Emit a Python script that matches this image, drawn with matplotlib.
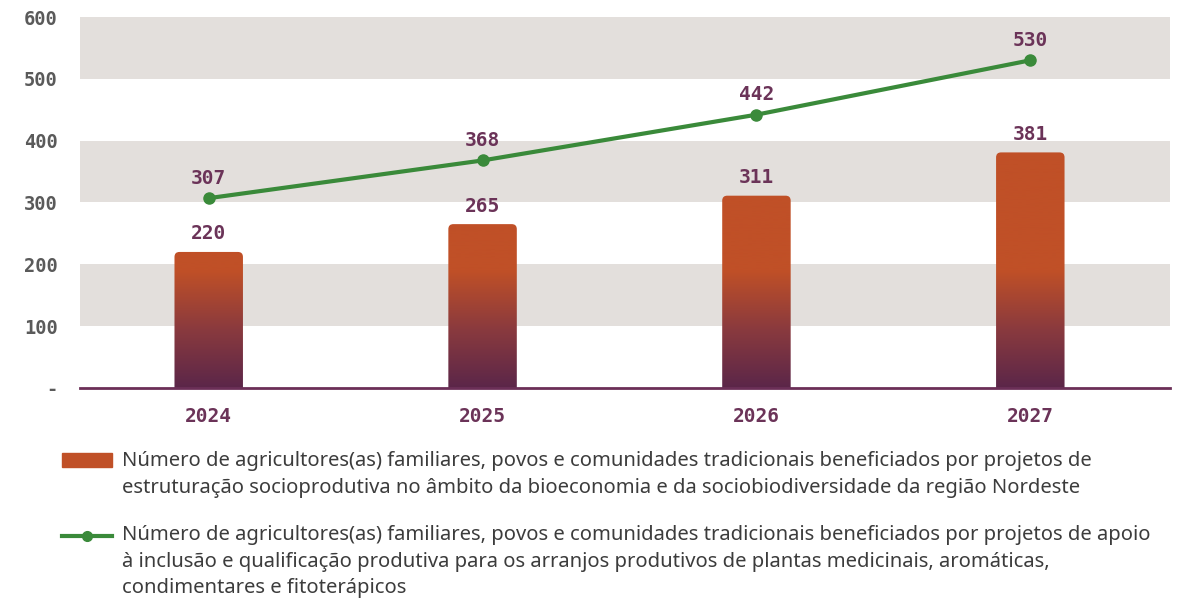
import numpy as np
import matplotlib
matplotlib.use("Agg")
import matplotlib.pyplot as plt
from matplotlib.colors import LinearSegmentedColormap
from matplotlib.patches import Rectangle, FancyBboxPatch
from matplotlib.lines import Line2D

years = ["2024", "2025", "2026", "2027"]
bar_values = [220, 265, 311, 381]
line_values = [307, 368, 442, 530]
y_ticks = [0, 100, 200, 300, 400, 500, 600]
y_tick_labels = ["-", "100", "200", "300", "400", "500", "600"]
bar_label = ("Número de agricultores(as) familiares, povos e comunidades tradicionais beneficiados por projetos de\n"
             "estruturação socioprodutiva no âmbito da bioeconomia e da sociobiodiversidade da região Nordeste")
line_label = ("Número de agricultores(as) familiares, povos e comunidades tradicionais beneficiados por projetos de apoio\n"
              "à inclusão e qualificação produtiva para os arranjos produtivos de plantas medicinais, aromáticas,\n"
              "condimentares e fitoterápicos")

orange = "#c05027"
purple = "#5b2649"
green = "#3a8a3a"
label_purple = "#6b3358"
mono = "DejaVu Sans Mono"

fig = plt.figure(figsize=(11.8, 6.03), dpi=100)
ax = fig.add_axes([0.0678, 0.3566, 0.9237, 0.6152])

x = np.arange(len(years))
ax.set_xlim(-0.47, 3.51)
ax.set_ylim(0, 600)

# gray bands
for lo in (100, 300, 500):
    ax.axhspan(lo, lo + 100, color="#e3dfdc", lw=0, zorder=0)

# gradient bars with slightly rounded tops
cmap = LinearSegmentedColormap.from_list("bar", [purple, "#8a3a3e", orange], N=256)
grad = np.linspace(0, 1, 600).reshape(-1, 1)
grad = np.clip(grad / (190 / 600), 0, 1)
width = 0.25
# data units per pixel ratio, so the corner radius stays round
px_x = (3.51 + 0.47) / (0.9237 * 1180)
px_y = 600 / (0.6152 * 603)
for xi, v in zip(x, bar_values):
    patch = FancyBboxPatch((xi - width / 2, -20), width, v + 20,
                           boxstyle=f"round,pad=0,rounding_size={5 * px_x}",
                           mutation_aspect=px_y / px_x, fc="none", ec="none")
    ax.add_patch(patch)
    im = ax.imshow(grad, cmap=cmap, aspect="auto", origin="lower",
                   extent=(-0.5, 3.5, 0, 600), vmin=0, vmax=1, zorder=2)
    im.set_clip_path(patch)
ax.set_xlim(-0.47, 3.51)
ax.set_ylim(0, 600)

for xi, v in zip(x, bar_values):
    ax.annotate(str(v), (xi, v), xytext=(0, 18), textcoords="offset pixels",
                ha="center", va="center", fontsize=14, fontweight="bold", family=mono,
                color=label_purple, zorder=4)

ax.plot(x, line_values, color=green, lw=3, marker="o", ms=8, zorder=3)
for xi, v in zip(x, line_values):
    ax.annotate(str(v), (xi, v), xytext=(0, 20), textcoords="offset pixels",
                ha="center", va="center", fontsize=14, fontweight="bold", family=mono,
                color=label_purple, zorder=4)

for s in ("top", "right", "left"):
    ax.spines[s].set_visible(False)
ax.spines["bottom"].set_color("#6b2f57")
ax.spines["bottom"].set_linewidth(2)
ax.spines["bottom"].set_zorder(5)

ax.set_yticks(y_ticks)
ax.set_yticklabels(y_tick_labels, family=mono, fontweight="bold", fontsize=13.5, color="#5a5a5a")
ax.set_xticks(x)
ax.set_xticklabels(years, family=mono, fontweight="bold", fontsize=14, color=label_purple)
ax.tick_params(axis="both", length=0)
ax.tick_params(axis="y", pad=16)
ax.tick_params(axis="x", pad=14)

# legend drawn by hand
fig.patches.append(Rectangle((62 / 1180, 1 - 467 / 603), 50 / 1180, 14 / 603,
                             transform=fig.transFigure, color=orange))
fig.text(122 / 1180, 1 - 451 / 603, bar_label, ha="left", va="top", fontsize=14.55,
         family="Noto Sans", color="#3c3c3c", linespacing=1.45)
fig.lines.append(Line2D([62 / 1180, 112 / 1180], [1 - 536 / 603] * 2, transform=fig.transFigure,
                        color=green, lw=3))
fig.lines.append(Line2D([87 / 1180], [1 - 536 / 603], transform=fig.transFigure,
                        color=green, marker="o", ms=7))
fig.text(122 / 1180, 1 - 525 / 603, line_label, ha="left", va="top", fontsize=14.55,
         family="Noto Sans", color="#3c3c3c", linespacing=1.45)

fig.savefig("out.png", dpi=100)
